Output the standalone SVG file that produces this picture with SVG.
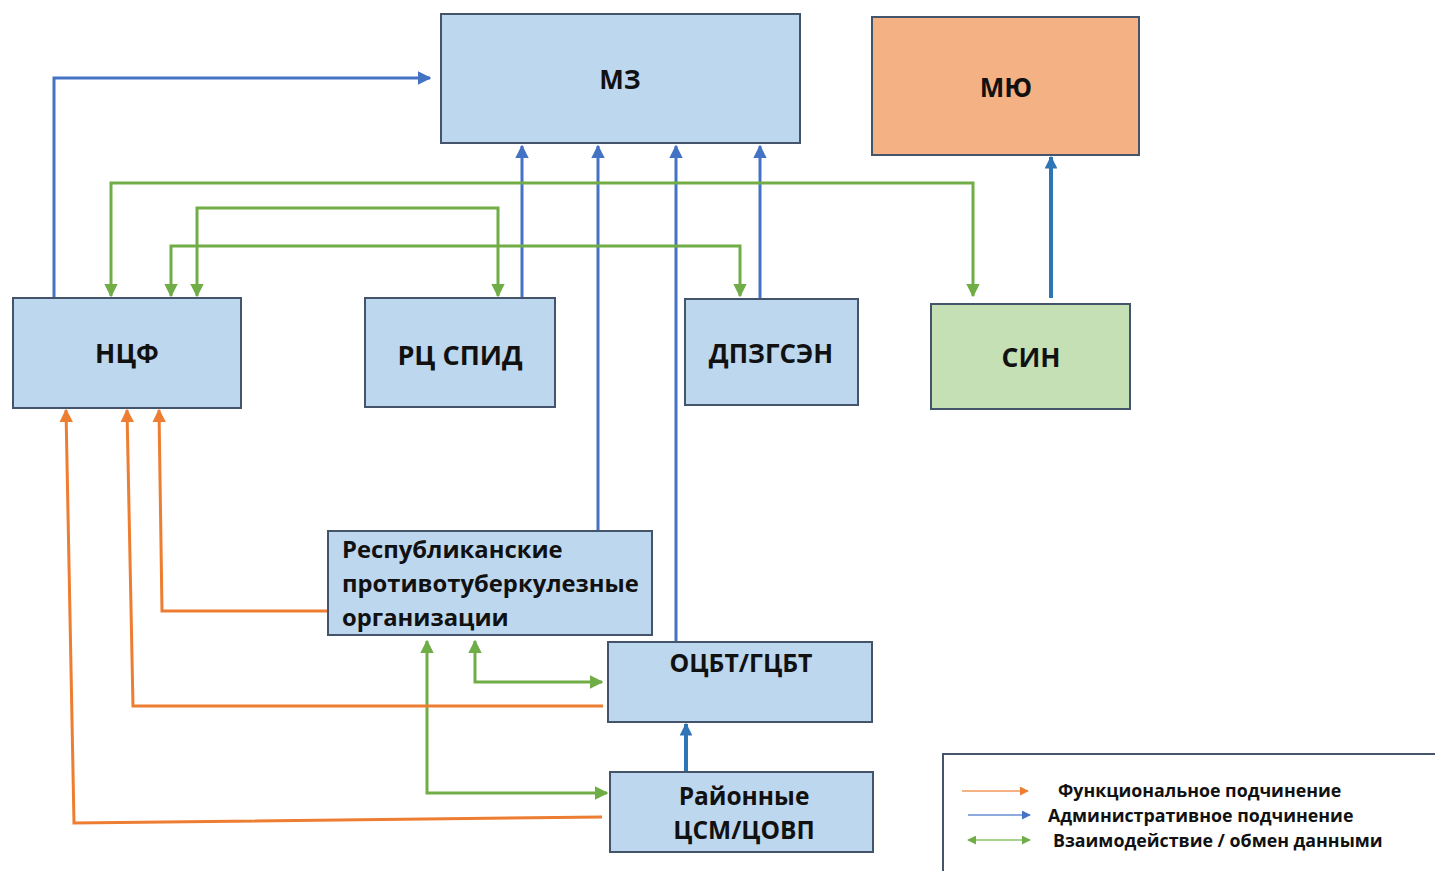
<svg xmlns="http://www.w3.org/2000/svg" width="1435" height="871" viewBox="0 0 1435 871">
<defs>
<marker id="ab" viewBox="0 0 10 10" refX="9" refY="5" markerWidth="4.5" markerHeight="4.5" orient="auto-start-reverse" markerUnits="strokeWidth"><path d="M0,0 L10,5 L0,10 z" fill="#4472c4"/></marker>
<marker id="ad" viewBox="0 0 10 10" refX="9" refY="5" markerWidth="3.2" markerHeight="3.2" orient="auto-start-reverse" markerUnits="strokeWidth"><path d="M0,0 L10,5 L0,10 z" fill="#2e75b6"/></marker>
<marker id="ag" viewBox="0 0 10 10" refX="9" refY="5" markerWidth="4.5" markerHeight="4.5" orient="auto-start-reverse" markerUnits="strokeWidth"><path d="M0,0 L10,5 L0,10 z" fill="#70ad47"/></marker>
<marker id="ao" viewBox="0 0 10 10" refX="9" refY="5" markerWidth="4.5" markerHeight="4.5" orient="auto-start-reverse" markerUnits="strokeWidth"><path d="M0,0 L10,5 L0,10 z" fill="#ed7d31"/></marker>
</defs>
<style>
.box{stroke:#44546a;stroke-width:2}
.blue{fill:#bdd7ee}
.t{font-family:"Open Sans","Noto Sans",sans-serif;font-weight:bold;fill:#111;text-anchor:middle}
.b{fill:none;stroke:#4472c4;stroke-width:3;marker-end:url(#ab)}
.bd{fill:none;stroke:#2e75b6;stroke-width:4;marker-end:url(#ad)}
.g{fill:none;stroke:#70ad47;stroke-width:3;marker-start:url(#ag);marker-end:url(#ag)}
.o{fill:none;stroke:#ed7d31;stroke-width:3;marker-end:url(#ao)}
.lt{font-family:"Open Sans","Noto Sans",sans-serif;font-weight:bold;font-size:17.8px;fill:#111}
</style>
<rect width="1435" height="871" fill="#fff"/>
<g id="connectors">
<path class="b" d="M54,298 V78 H430"/>
<path class="b" d="M522,298 V146"/>
<path class="b" d="M598,531 V146"/>
<path class="b" d="M676,642 V146"/>
<path class="b" d="M760,299 V146"/>
<path class="bd" d="M1051,298 V157"/>
<path class="bd" d="M686,772 V724"/>
<path class="g" d="M111,296 V183 H973 V296"/>
<path class="g" d="M197,296 V208 H498 V296"/>
<path class="g" d="M171,296 V246 H740 V296"/>
<path class="g" d="M475,641 V682 H602"/>
<path class="g" d="M427,641 V793 H607"/>
<path class="o" d="M328,611 H162 L159,410"/>
<path class="o" d="M603,706 H133 L127,410"/>
<path class="o" d="M602,817 L74,823 L66,410"/>
</g>
<g id="mz"><rect class="box blue" x="441" y="14" width="359" height="129"/><text class="t" x="620" y="89" font-size="26">МЗ</text></g>
<g id="myu"><rect class="box" fill="#f4b183" x="872" y="17" width="267" height="138"/><text class="t" x="1006" y="97" font-size="26">МЮ</text></g>
<g id="ncf"><rect class="box blue" x="13" y="298" width="228" height="110"/><text class="t" x="127" y="363" font-size="26.5">НЦФ</text></g>
<g id="rcspid"><rect class="box blue" x="365" y="298" width="190" height="109"/><text class="t" x="460" y="365" font-size="27">РЦ СПИД</text></g>
<g id="dpzgsen"><rect class="box blue" x="685" y="299" width="173" height="106"/><text class="t" x="771" y="363" font-size="26">ДПЗГСЭН</text></g>
<g id="sin"><rect class="box" fill="#c5e0b4" x="931" y="304" width="199" height="105"/><text class="t" x="1031" y="367" font-size="26.5">СИН</text></g>
<g id="resp"><rect class="box blue" x="328" y="531" width="324" height="104"/>
<text class="t" style="text-anchor:start" x="342" y="558" font-size="23.8">Республиканские</text>
<text class="t" style="text-anchor:start" x="342" y="592" font-size="23.8">противотуберкулезные</text>
<text class="t" style="text-anchor:start" x="342" y="626" font-size="23.8">организации</text></g>
<g id="ocbt"><rect class="box blue" x="608" y="642" width="264" height="80"/><text class="t" x="741" y="672" font-size="24.8">ОЦБТ/ГЦБТ</text></g>
<g id="raion"><rect class="box blue" x="610" y="772" width="263" height="80"/><text class="t" x="744" y="805" font-size="24.5">Районные</text><text class="t" x="744" y="839" font-size="24.5">ЦСМ/ЦОВП</text></g>
<g id="legend">
<path d="M943,871 V754 H1436" fill="none" stroke="#44546a" stroke-width="2"/>
<line x1="962" y1="791" x2="1028" y2="791" stroke="#f4b183" stroke-width="2" marker-end="url(#ao)"/>
<line x1="968" y1="815" x2="1030" y2="815" stroke="#8faadc" stroke-width="2" marker-end="url(#ab)"/>
<line x1="968" y1="840" x2="1030" y2="840" stroke="#a9d18e" stroke-width="2" marker-start="url(#ag)" marker-end="url(#ag)"/>
<text class="lt" x="1058" y="797">Функциональное подчинение</text>
<text class="lt" x="1048" y="822">Административное подчинение</text>
<text class="lt" x="1053" y="847">Взаимодействие / обмен данными</text>
</g>
</svg>
